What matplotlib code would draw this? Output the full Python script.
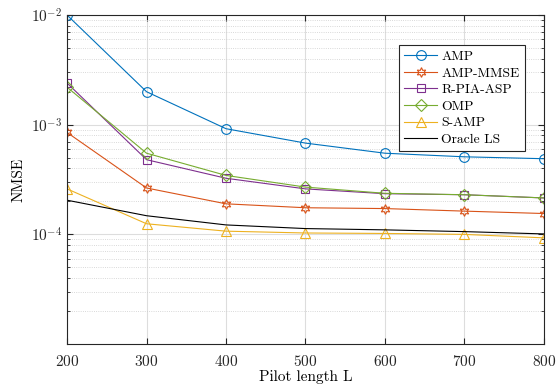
import matplotlib
matplotlib.use("Agg")
import matplotlib.pyplot as plt
from matplotlib.ticker import LogLocator, NullFormatter

plt.rcParams['font.family'] = ['cmr10', 'DejaVu Serif']
plt.rcParams['mathtext.fontset'] = 'cm'
plt.rcParams['axes.formatter.use_mathtext'] = True

# pilot length
L = [200, 300, 400, 500, 600, 700, 800]

amp = [1.0e-2, 2.0e-3, 9.2e-4, 6.8e-4, 5.5e-4, 5.1e-4, 4.9e-4]
amp_mmse = [8.5e-4, 2.65e-4, 1.9e-4, 1.75e-4, 1.72e-4, 1.63e-4, 1.55e-4]
rpia = [2.4e-3, 4.8e-4, 3.25e-4, 2.6e-4, 2.35e-4, 2.3e-4, 2.15e-4]
omp = [2.2e-3, 5.5e-4, 3.45e-4, 2.7e-4, 2.37e-4, 2.3e-4, 2.15e-4]
samp = [2.6e-4, 1.25e-4, 1.07e-4, 1.03e-4, 1.02e-4, 1.0e-4, 9.3e-5]
oracle = [2.05e-4, 1.48e-4, 1.22e-4, 1.13e-4, 1.1e-4, 1.06e-4, 1.01e-4]

fig = plt.figure(figsize=(5.59, 3.87), dpi=100)
ax = fig.add_axes([0.12, 0.111, 0.853, 0.85])

ms = 7
ax.semilogy(L, amp, '-o', color='#0072BD', mfc='none', ms=ms, lw=0.8, mew=0.8, label='AMP')
ax.semilogy(L, amp_mmse, '-', color='#D95319', mfc='none', ms=ms, lw=0.8, mew=0.8, label='AMP-MMSE', marker=(6, 1, 0))
ax.semilogy(L, rpia, '-s', color='#7E2F8E', mfc='none', ms=6, lw=0.8, mew=0.8, label='R-PIA-ASP')
ax.semilogy(L, omp, '-D', color='#77AC30', mfc='none', ms=6, lw=0.8, mew=0.8, label='OMP')
ax.semilogy(L, samp, '-^', color='#EDB120', mfc='none', ms=ms, lw=0.8, mew=0.8, label='S-AMP')
ax.semilogy(L, oracle, '-', color='black', lw=0.8, label='Oracle LS')

ax.set_xlim(200, 800)
ax.set_ylim(1e-5, 1e-2)
ax.set_xticks(L)
ax.yaxis.set_minor_locator(LogLocator(base=10, subs=range(2, 10), numticks=20))
ax.yaxis.set_minor_formatter(NullFormatter())
ax.set_yticks([1e-4, 1e-3, 1e-2])

ax.grid(True, which='major', color='#dddddd', lw=0.8)
ax.grid(True, which='minor', axis='y', color='#cccccc', ls=':', lw=0.6)
ax.tick_params(which='both', direction='in', top=True, right=True, labelsize=11, colors='#262626')
ax.tick_params(which='major', length=4)
ax.tick_params(axis='x', pad=7)
ax.tick_params(which='minor', length=2)
for s in ax.spines.values():
    s.set_color('#262626')
    s.set_linewidth(0.8)

ax.set_xlabel('Pilot length L', fontsize=11, labelpad=1)
ax.set_ylabel('NMSE', fontsize=11)

leg = ax.legend(loc='upper right', bbox_to_anchor=(0.96, 0.909), borderaxespad=0, fontsize=9.8,
                fancybox=False, edgecolor='#262626', framealpha=1, handlelength=2.4,
                borderpad=0.4, labelspacing=0.3, handletextpad=0.3)
leg.get_frame().set_linewidth(0.8)

fig.savefig('out.png', dpi=100)
